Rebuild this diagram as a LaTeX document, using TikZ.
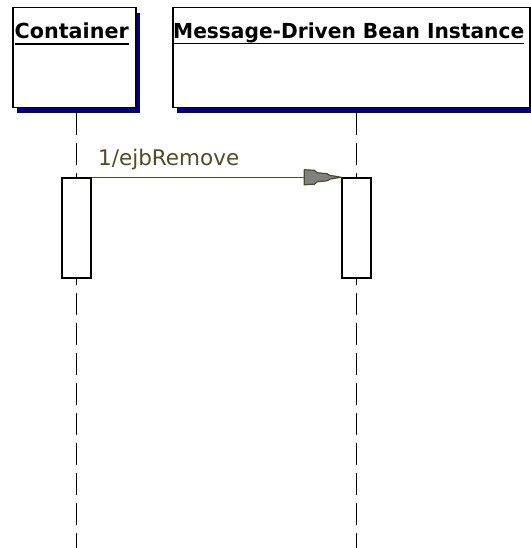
\documentclass[tikz,border=0pt]{standalone}
\usepackage{fontspec}
\setmainfont{DejaVu Sans}
\usetikzlibrary{shadows}
\definecolor{shadownavy}{RGB}{0,0,128}
\definecolor{msgolive}{RGB}{78,78,38}
\definecolor{headgray}{RGB}{128,128,128}
\tikzset{
  objbox/.style={draw=black, line width=1.5pt, fill=white, anchor=north west, inner sep=0pt,
    drop shadow={shadow xshift=4pt, shadow yshift=-5pt, fill=shadownavy, opacity=1}},
  headtext/.style={anchor=base west, inner sep=0pt, font=\fontsize{20.7}{24}\selectfont\bfseries},
  lifeline/.style={draw=black, line width=1.8pt, dash pattern=on 22pt off 8pt},
  actbox/.style={draw=black, line width=1.5pt, fill=white, minimum width=29pt, minimum height=100pt, inner sep=0pt},
  msgline/.style={draw=msgolive, line width=1.4pt},
  msglabel/.style={anchor=base west, inner sep=0pt, text=msgolive, font=\fontsize{21.5}{24}\selectfont},
  headfill/.style={fill=headgray, draw=msgolive, line width=1.2pt, line join=round}
}
\begin{document}
\begin{tikzpicture}[x=1pt, y=-1pt]
\useasboundingbox (0,0) rectangle (530,548);
% object boxes
\node[objbox, minimum width=123pt, minimum height=100pt] (cont) at (12,7) {};
\node[objbox, minimum width=357pt, minimum height=100pt] (mdb) at (172,7) {};
% headers
\node[headtext] (conttxt) at (14.5,39) {Container};
\node[headtext] (mdbtxt) at (173,39) {\scalebox{0.975}[1]{Message-Driven Bean Instance}};
\draw[line width=1.3pt] ([yshift=-5pt]conttxt.base west) -- ([yshift=-5pt]conttxt.base east);
\draw[line width=1.3pt] ([yshift=-4.5pt]mdbtxt.base west) -- ([yshift=-4.5pt]mdbtxt.base east);
% lifelines
\coordinate (l1top) at (76.5,113);
\coordinate (l1bot) at (76.5,548);
\coordinate (l2top) at (356.5,113);
\coordinate (l2bot) at (356.5,548);
\draw[lifeline] (l1top) -- (l1bot);
\draw[lifeline] (l2top) -- (l2bot);
% activations
\node[actbox] (act1) at (76.5,228) {};
\node[actbox] (act2) at (356.5,228) {};
% message
\draw[msgline] (act1.north east) -- (act2.north west);
\node[msglabel] (lbl) at (98,165) {1/ejbRemove};
% arrow head
\path[headfill, shift={(act2.north west)}]
  (0,0) -- (-12,-2) -- (-14,-3.5) -- (-24,-4.5) -- (-27,-7) -- (-37,-7.5)
  -- (-37,7.5) -- (-27,7) -- (-24,4.5) -- (-14,3.5) -- (-12,2) -- cycle;
\end{tikzpicture}
\end{document}
